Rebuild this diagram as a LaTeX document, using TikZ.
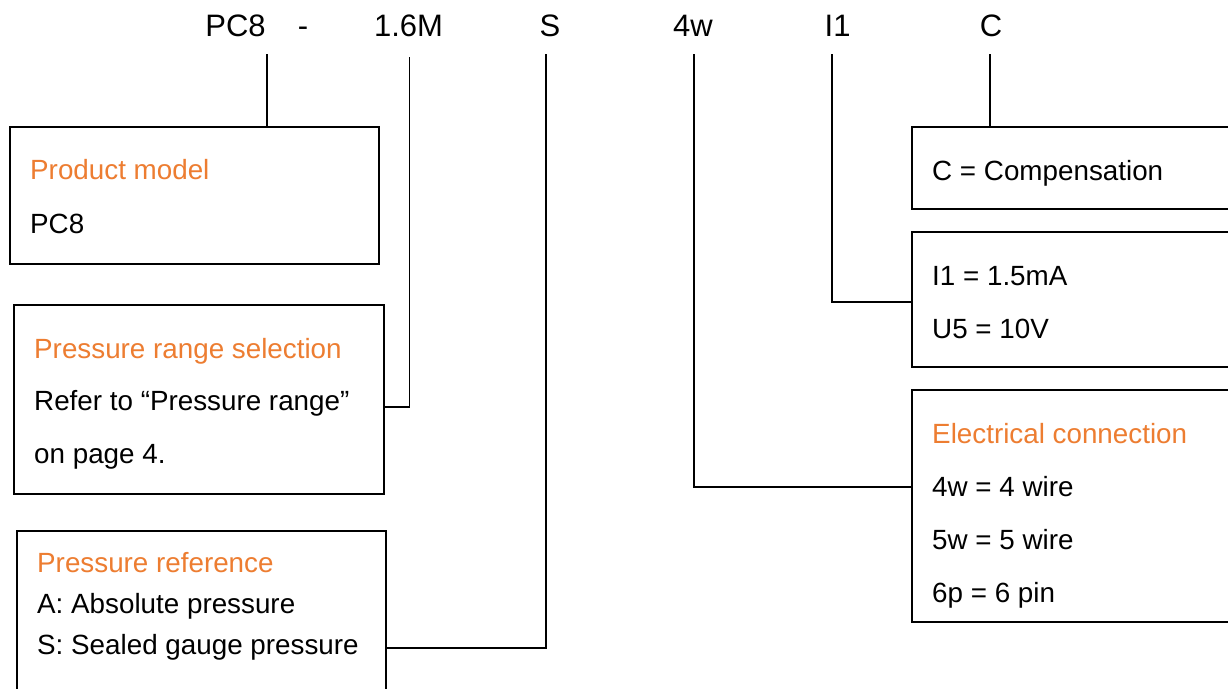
\documentclass[tikz,border=0pt]{standalone}
\usepackage{fontspec}
\setmainfont{Liberation Sans}
\definecolor{hdr}{RGB}{237,125,49}
\begin{document}
\begin{tikzpicture}[x=1pt,y=-1pt,
  box/.style={draw=black,line width=1.6pt,inner sep=0pt,anchor=north west},
  code/.style={anchor=base,inner sep=0pt,font=\fontsize{31}{31}\selectfont},
  txt/.style={anchor=base west,inner sep=0pt,font=\fontsize{27.8}{28}\selectfont},
  ttl/.style={txt,text=hdr},
  link/.style={draw=black,line width=1.3pt}]
\useasboundingbox (0,0) rectangle (1228,688);
\clip (0,0) rectangle (1228,688);
\fill[white] (0,0) rectangle (1228,688);
% code labels
\node[code] (lPC) at (235.5,36) {PC8};
\node[code] (ldash) at (303,36) {-};
\node[code] (lM) at (408.5,36) {1.6M};
\node[code] (lS) at (550,36) {S};
\node[code] (l4w) at (693,36) {4w};
\node[code] (lI) at (837.6,36) {I1};
\node[code] (lC) at (991,36) {C};
% line tops
\coordinate (tPC) at (267,54);
\coordinate (tM) at (409.5,57);
\coordinate (tS) at (546,54);
\coordinate (t4w) at (694,54);
\coordinate (tI) at (832,54);
\coordinate (tC) at (990,54);
% boxes
\node[box,minimum width=369pt,minimum height=137pt] (b1) at (9,126) {};
\node[box,minimum width=370pt,minimum height=189pt] (b2) at (13,304) {};
\node[box,minimum width=369pt,minimum height=200pt] (b3) at (16,530) {};
\node[box,minimum width=360pt,minimum height=82pt] (b4) at (911,126) {};
\node[box,minimum width=360pt,minimum height=135pt] (b5) at (911,231) {};
\node[box,minimum width=360pt,minimum height=232pt] (b6) at (911,389) {};
% texts
\node[ttl] (t1a) at (30,179) {Product model};
\node[txt] (t1b) at (30,233) {PC8};
\node[ttl] (t2a) at (34,358) {Pressure range selection};
\node[txt] (t2b) at (34,410) {Refer to “Pressure range”};
\node[txt] (t2c) at (34,463) {on page 4.};
\node[ttl] (t3a) at (37,572) {Pressure reference};
\node[txt] (t3b) at (37,613) {A: Absolute pressure};
\node[txt] (t3c) at (37,654) {S: Sealed gauge pressure};
\node[txt] (t4a) at (932,180) {C = Compensation};
\node[txt] (t5a) at (932,285) {I1 = 1.5mA};
\node[txt] (t5b) at (932,338) {U5 = 10V};
\node[ttl] (t6a) at (932,443) {Electrical connection};
\node[txt] (t6b) at (932,496) {4w = 4 wire};
\node[txt] (t6c) at (932,549) {5w = 5 wire};
\node[txt] (t6d) at (932,602) {6p = 6 pin};
% connectors
\draw[link] (tPC) -- (tPC |- b1.north);
\draw[link] (tC) -- (tC |- b4.north);
\draw[link] (tM) |- ([yshift=-103pt]b2.north east);
\draw[link] (tS) |- ([yshift=-118pt]b3.north east);
\draw[link] (t4w) |- ([yshift=-98pt]b6.north west);
\draw[link] (tI) |- ([yshift=-71pt]b5.north west);
\end{tikzpicture}
\end{document}
